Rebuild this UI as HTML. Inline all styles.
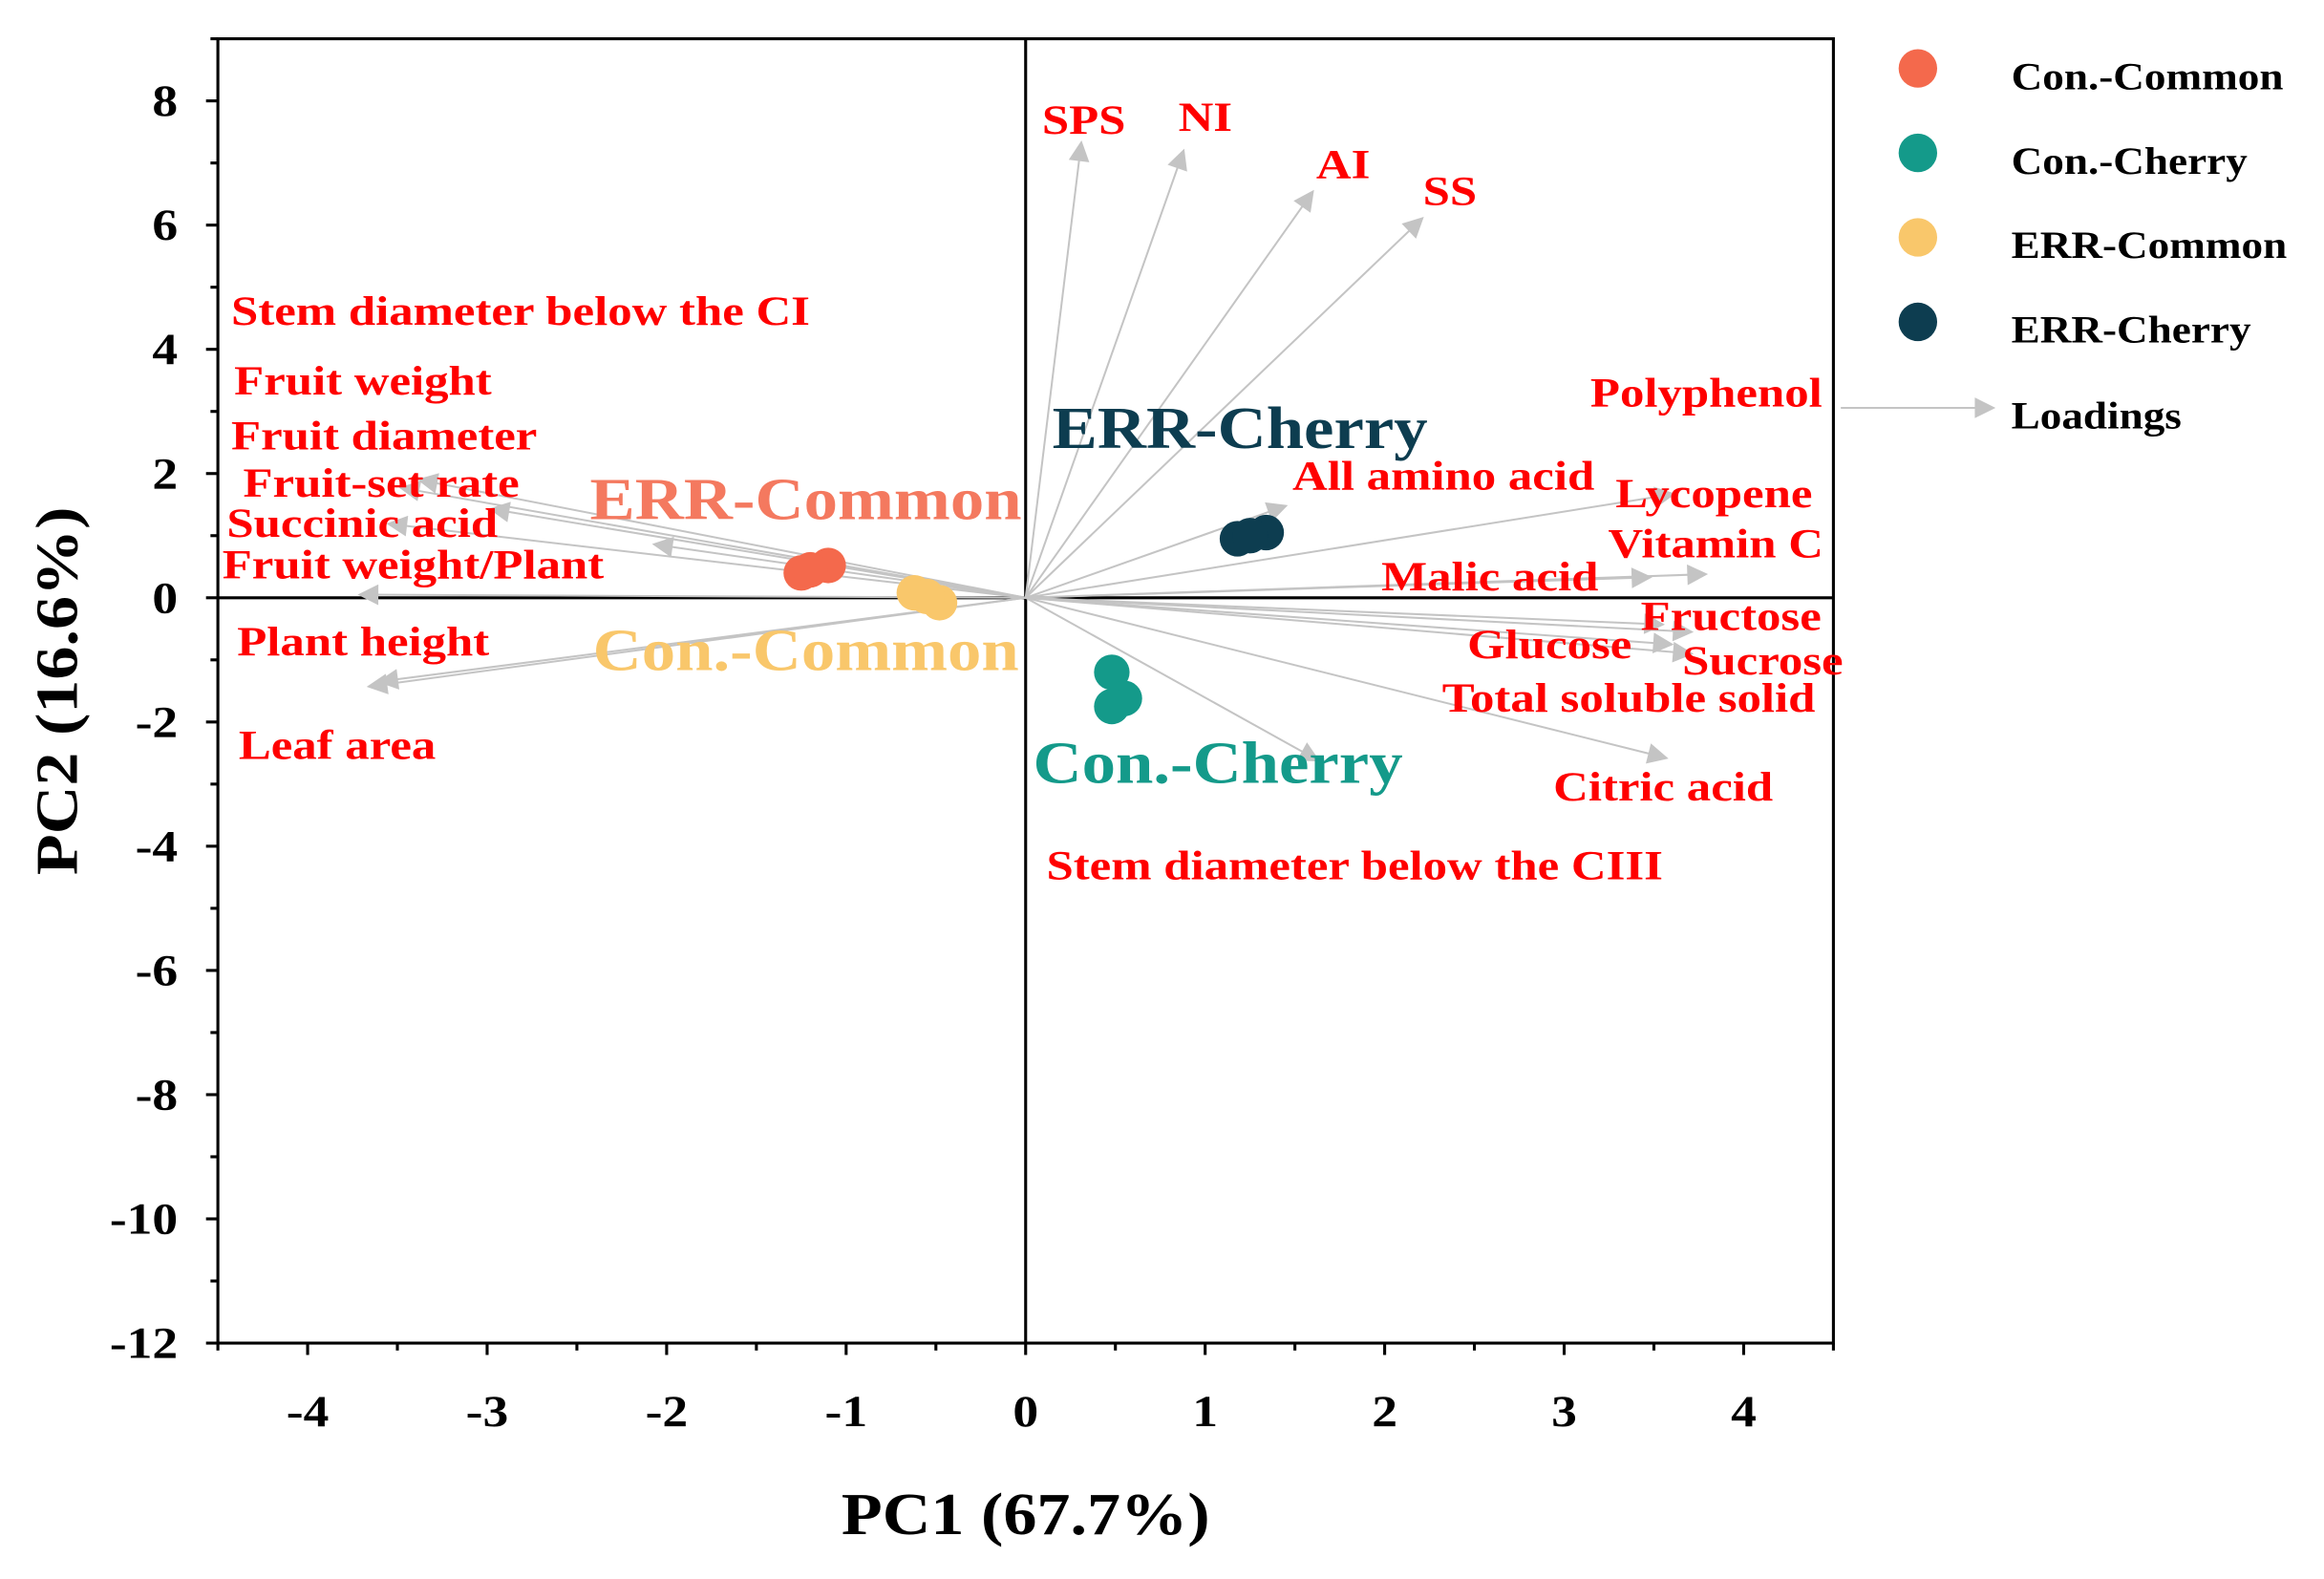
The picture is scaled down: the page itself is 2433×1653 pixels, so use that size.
<!DOCTYPE html>
<html><head><meta charset="utf-8"><style>
html,body{margin:0;padding:0;background:#fff;}
svg{display:block;}
text{font-family:"Liberation Serif",serif;font-weight:bold;}
</style></head><body>
<svg id="chart" width="2433" height="1653" viewBox="0 0 1568 1065" xmlns="http://www.w3.org/2000/svg">
<defs>
<marker id="ah" viewBox="0 0 10 10" refX="9" refY="5" markerWidth="18" markerHeight="14" markerUnits="userSpaceOnUse" orient="auto">
<path d="M0,0 L10,5 L0,10 z" fill="#c4c4c4"/></marker>
</defs>
<g id="plot"></g>
</svg>
<script>
// ----- data -----
const xTicks=[-4,-3,-2,-1,0,1,2,3,4];
const yTicks=[8,6,4,2,0,-2,-4,-6,-8,-10,-12];
const loadingNames=["SPS","NI","AI","SS","All amino acid","Lycopene","Vitamin C","Malic acid","Fructose","Glucose","Sucrose","Total soluble solid","Citric acid","Stem diameter below the CIII","Stem diameter below the CI","Fruit weight","Fruit diameter","Fruit-set rate","Succinic acid","Fruit weight/Plant","Plant height","Leaf area"];
const loadingX=[0.31,0.88,1.6,2.21,1.45,3.61,3.79,3.48,3.71,3.55,3.71,3.6,3.57,1.63,-2.98,-3.38,-2.07,-3.48,-3.55,-3.71,-3.66,-3.6];
const loadingY=[7.33,7.2,6.54,6.11,1.48,1.67,0.38,0.33,-0.55,-0.43,-0.9,-0.75,-2.58,-2.62,1.43,1.9,0.86,1.77,1.19,0.05,-1.43,-1.35];
const labelX=[703,795,888,960,872,1090,1085,932,1107,990,1135,973,1048,706,156,158,156,164,153,150,160,161];
const labelY=[90,88,120,138,330,342,376,398,425,444,455,480,540,593,219,266,303,335,362,390,442,512];
const groupNames=["Con.-Common","Con.-Cherry","ERR-Common","ERR-Cherry"];
const groupColors=["#f4694c","#149a8a","#f9c76b","#0d3d50"];
const labelColors=["#f9c76b","#149a8a","#f4795f","#0d3d50"];
const groupPC1=[[-1.25,-1.1,-1.2],[0.48,0.55,0.48],[-0.62,-0.48,-0.55],[1.18,1.34,1.25]];
const groupPC2=[[0.4,0.52,0.45],[-1.2,-1.62,-1.75],[0.08,-0.08,0.02],[0.95,1.05,1.0]];
const groupLabelPos=[[400,452],[697,528],[398,350],[710,302]];

// ----- axes -----
const L=147,R=1237,T=26,B=906;
const xMin=-4.5,xMax=4.5,yMin=-12,yMax=9;
const sx=v=>L+(v-xMin)/(xMax-xMin)*(R-L);
const sy=v=>B-(v-yMin)/(yMax-yMin)*(B-T);
const NS="http://www.w3.org/2000/svg";
const g=document.getElementById('plot');
function mk(tag,attrs,txt){const e=document.createElementNS(NS,tag);for(const k in attrs)e.setAttribute(k,attrs[k]);if(txt!==undefined)e.textContent=txt;g.appendChild(e);return e;}
function txt(x,y,s,attrs,sc){const a=Object.assign({x:0,y:0,transform:`translate(${x},${y}) scale(${sc||1.15},1)`},attrs);return mk('text',a,s);}

const frame=mk('rect',{x:L,y:T,width:R-L,height:B-T,fill:'none',stroke:'#000','stroke-width':2});


const vz=mk('line',{x1:sx(0),x2:sx(0),y1:T,y2:B,stroke:'#000','stroke-width':2});


const hz=mk('line',{x1:L,x2:R,y1:sy(0),y2:sy(0),stroke:'#000','stroke-width':2});



for(let v=-4.5;v<=4.5;v+=0.5){const major=Number.isInteger(v);
 const t=mk('line',{x1:sx(v),x2:sx(v),y1:B,y2:B+(major?8:5),stroke:'#000','stroke-width':2});
 
 }
xTicks.forEach(v=>{const t=txt(sx(v),962,String(v),{'text-anchor':'middle','font-size':30});
 
 });
for(let v=-12;v<=9;v+=1){const major=v%2===0;
 const t=mk('line',{x1:L-(major?8:5),x2:L,y1:sy(v),y2:sy(v),stroke:'#000','stroke-width':2});
 
 }
yTicks.forEach(v=>{const t=txt(120,sy(v)+10,String(v),{'text-anchor':'end','font-size':30});
 
 });
const xt=txt(sx(0),1035,'PC1 (67.7%)',{'text-anchor':'middle','font-size':40},1.13);


const yt=mk('text',{x:0,y:0,'text-anchor':'middle','font-size':40,transform:'translate(52,466) rotate(-90) scale(1.13,1)'},'PC2 (16.6%)');



// loadings
loadingNames.forEach((n,i)=>{
 const a=mk('line',{x1:sx(0),y1:sy(0),x2:sx(loadingX[i]),y2:sy(loadingY[i]),stroke:'#c4c4c4','stroke-width':1.3,'marker-end':'url(#ah)'});
 
 
});
// scores
groupNames.forEach((n,gi)=>{
 groupPC1[gi].forEach((v,j)=>{
  const c=mk('circle',{cx:sx(v),cy:sy(groupPC2[gi][j]),r:12,fill:groupColors[gi]});
  
  
 });
 const t=txt(groupLabelPos[gi][0],groupLabelPos[gi][1],n,{fill:labelColors[gi],'font-size':40},1.14);
 
 
});
loadingNames.forEach((n,i)=>{
 const t=txt(labelX[i],labelY[i],n,{fill:'#ff0000','font-size':28},1.17);
 
 
});
// legend
groupNames.forEach((n,gi)=>{
 const y=46+gi*57;
 const c=mk('circle',{cx:1294,cy:y,r:13,fill:groupColors[gi]});
 
 
 const t=txt(1357,y+14,n,{'font-size':26},1.12);
 
 
});
const la=mk('line',{x1:1242,y1:275,x2:1345,y2:275,stroke:'#c4c4c4','stroke-width':1.3,'marker-end':'url(#ah)'});


const lt=txt(1357,289,'Loadings',{'font-size':26},1.12);


const pl=txt(1073,274,'Polyphenol',{fill:'#ff0000','font-size':28},1.17);


</script>
</body></html>
